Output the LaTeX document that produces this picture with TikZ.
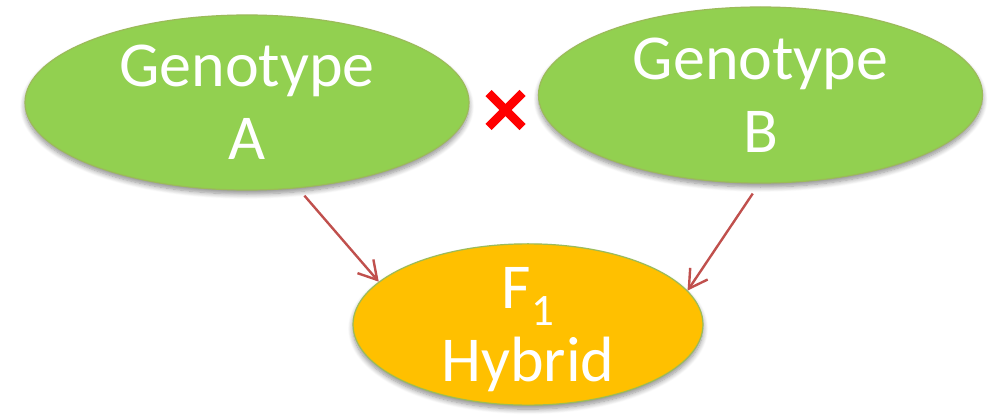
\documentclass[tikz,border=0pt]{standalone}
\usepackage{fontspec}
\setmainfont{Carlito}
\usepackage{xcolor}
\usetikzlibrary{arrows.meta,shapes.geometric,shadows.blur}
\definecolor{leafc}{HTML}{92D050}
\definecolor{rimc}{HTML}{9BBB59}
\definecolor{goldc}{HTML}{FFC000}
\definecolor{linkc}{HTML}{C0504D}
\definecolor{crossc}{HTML}{FF0000}
\tikzset{
  parent/.style={ellipse,draw=rimc,line width=1.2pt,fill=leafc,text=white,align=center,inner sep=0pt,minimum width=444pt,font=\fontsize{64}{73}\selectfont,blur shadow={shadow xshift=0pt,shadow yshift=-4pt,shadow blur radius=5pt,shadow blur steps=8,shadow opacity=45}},
  child/.style={parent,fill=goldc,minimum width=350pt,minimum height=160pt,text depth=0pt},
  ar/.style={-{Straight Barb[length=18pt,width=21pt]},line width=2.4pt,linkc},
  crossmark/.style={crossc,line width=8.5pt}
}

\begin{document}
\begin{tikzpicture}[x=1pt,y=-1pt]
\useasboundingbox (0,0) rectangle (991,417);
\node[parent,minimum height=175pt] (gA) at (247,102.5) {Genotype\\A};
\node[parent,minimum height=176pt] (gB) at (760.5,95) {Genotype\\B};
\node[child] (hy) at (528,324.5) {F\raisebox{-17pt}{\fontsize{45}{45}\selectfont 1}\\Hybrid};
% cross sign between the two parents
\coordinate (mate) at (505.5,110);
\draw[crossmark] ([shift={(-17,-17)}]mate) -- ([shift={(17,17)}]mate);
\draw[crossmark] ([shift={(-17,17)}]mate) -- ([shift={(17,-17)}]mate);
\draw[ar] ([yshift=-8pt]gA.-56) -- (hy.164);
\draw[ar] ([yshift=-10pt]gB.-95) -- (hy.12);
\end{tikzpicture}
\end{document}
